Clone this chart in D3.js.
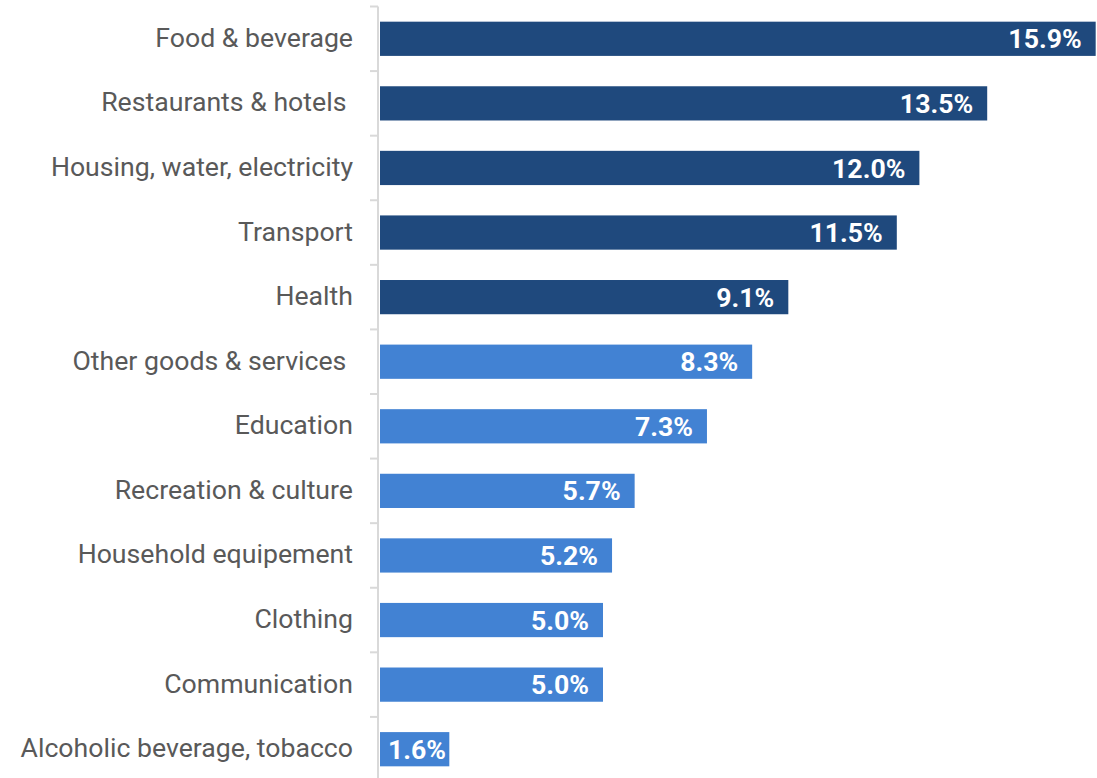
<!DOCTYPE html>
<html>
<head>
<meta charset="utf-8">
<script src="https://cdn.jsdelivr.net/npm/d3@7"></script>
<style>
  html, body { margin: 0; padding: 0; background: #fff; }
  svg { display: block; }
  text { white-space: pre; }
</style>
</head>
<body>
<script>
// Household spending shares by category (%)
const categories = [
  "Food & beverage",
  "Restaurants & hotels ",
  "Housing, water, electricity",
  "Transport",
  "Health",
  "Other goods & services ",
  "Education",
  "Recreation & culture",
  "Household equipement",
  "Clothing",
  "Communication",
  "Alcoholic beverage, tobacco"
];
const values = [15.9, 13.5, 12.0, 11.5, 9.1, 8.3, 7.3, 5.7, 5.2, 5.0, 5.0, 1.6];
// top five categories are highlighted in the darker shade
const groups = ["top", "top", "top", "top", "top", "rest", "rest", "rest", "rest", "rest", "rest", "rest"];

const W = 1097, H = 778;
const colors = { top: "#1f497d", rest: "#4282d3" };
const fontSize = 26.67;

const svg = d3.select("body").append("svg")
  .attr("width", W).attr("height", H);

const x = d3.scaleLinear().domain([0, 16]).range([377, 377 + 16 * 45.2]);
const y = d3.scaleBand().domain(categories).range([6.5, 781.5]).paddingInner(0.47).paddingOuter(0.235);

// category axis with separator ticks between rows
const step = y.step();
const axisX = 378;
svg.append("line")
  .attr("x1", axisX).attr("x2", axisX)
  .attr("y1", y.range()[0]).attr("y2", H)
  .attr("stroke", "#d9d9d9").attr("stroke-width", 2);

const bounds = d3.range(categories.length + 1).map(i => y.range()[0] + i * step);
svg.selectAll("line.sep").data(bounds).join("line")
  .attr("class", "sep")
  .attr("x1", axisX - 8).attr("x2", axisX)
  .attr("y1", d => d).attr("y2", d => d)
  .attr("stroke", "#d9d9d9").attr("stroke-width", 2);

// category labels
svg.selectAll("text.cat").data(categories).join("text")
  .attr("class", "cat")
  .attr("x", 353)
  .attr("y", d => y(d) + y.bandwidth() / 2)
  .attr("dy", "0.30em")
  .attr("text-anchor", "end")
  .attr("font-family", "Roboto, sans-serif")
  .attr("font-size", fontSize)
  .attr("fill", "#595959")
  .text(d => d);

// bars
const barStart = x(0) + 3;
svg.selectAll("rect.bar").data(values).join("rect")
  .attr("class", "bar")
  .attr("x", barStart)
  .attr("y", (d, i) => y(categories[i]))
  .attr("width", d => x(d) - barStart)
  .attr("height", y.bandwidth())
  .attr("fill", (d, i) => colors[groups[i]]);

// value labels inside bars
svg.selectAll("text.val").data(values).join("text")
  .attr("class", "val")
  .attr("y", (d, i) => y(categories[i]) + y.bandwidth() / 2)
  .attr("dy", "0.36em")
  .attr("font-family", "Roboto, sans-serif")
  .attr("font-weight", "bold")
  .attr("font-size", fontSize)
  .attr("fill", "#fff")
  .text(d => d.toFixed(1) + "%")
  .each(function (d) {
    const t = d3.select(this);
    const w = this.getComputedTextLength();
    const right = x(d) - 14;
    if (right - w < barStart + 6) {
      t.attr("x", barStart + 8).attr("text-anchor", "start");
    } else {
      t.attr("x", right).attr("text-anchor", "end");
    }
  });
</script>
</body>
</html>
